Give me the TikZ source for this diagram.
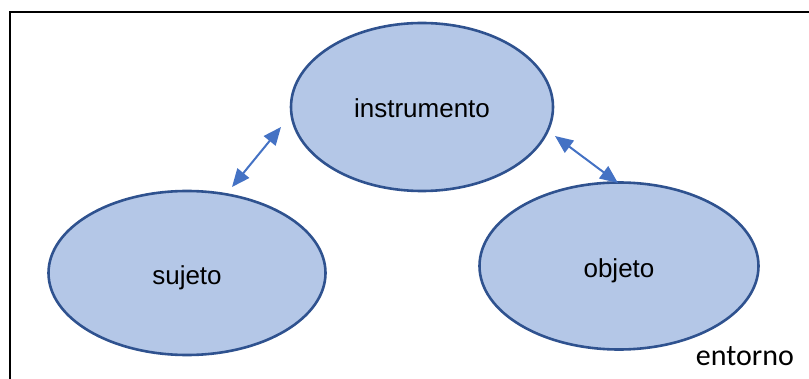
\documentclass[tikz,border=0pt]{standalone}
\usepackage{fontspec}
\setmainfont{Liberation Sans}
\newfontfamily\carlito{Carlito}
\usetikzlibrary{arrows.meta,shapes.geometric}
\definecolor{ellfill}{HTML}{B4C7E7}
\definecolor{elldraw}{HTML}{2F528F}
\definecolor{arrblue}{HTML}{4472C4}
\begin{document}
\begin{tikzpicture}[x=1pt,y=-1pt,
  ell/.style={ellipse,draw=elldraw,fill=ellfill,line width=2.6pt,inner sep=0pt,text height=24pt,text depth=0pt,font=\fontsize{26}{30}\selectfont},
  conn/.style={draw=arrblue,line width=2pt,{Triangle[length=18pt,width=15pt]}-{Triangle[length=18pt,width=15pt]}}]
\useasboundingbox (0,0) rectangle (809,379);
\clip (0,0) rectangle (809,379);
\draw[line width=2.8pt,black] (10,12) rectangle (830,400);
\node[ell,minimum width=262pt,minimum height=168pt,text height=22pt] (instr) at (422,107) {instrumento};
\node[ell,minimum width=277pt,minimum height=164pt] (suj) at (187,273) {sujeto};
\node[ell,minimum width=279pt,minimum height=167pt,text height=24pt] (obj) at (619,266) {objeto};
\coordinate (a1) at (281,127);
\coordinate (a2) at (232,187);
\coordinate (b1) at (555,136);
\coordinate (b2) at (618,183);
\draw[conn] (a1) -- (a2);
\draw[conn] (b1) -- (b2);
\node[font=\carlito\fontsize{30}{34}\selectfont,anchor=base] (ent) at (745,366) {entorno};
\end{tikzpicture}
\end{document}
